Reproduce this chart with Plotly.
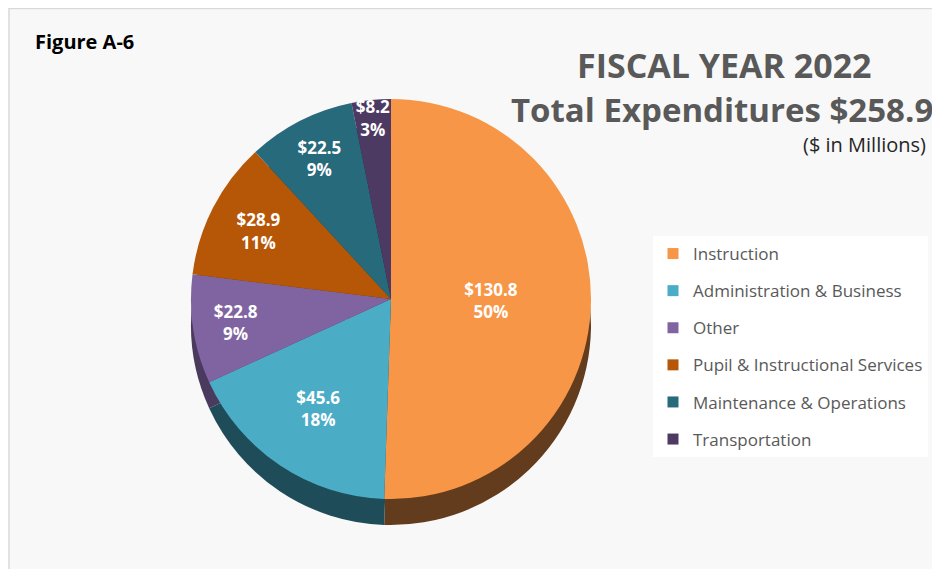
import plotly.graph_objects as go

categories = ["Instruction", "Administration & Business", "Other",
              "Pupil & Instructional Services", "Maintenance & Operations", "Transportation"]
amounts = [130.8, 45.6, 22.8, 28.9, 22.5, 8.2]
percent_labels = ["50%", "18%", "9%", "11%", "9%", "3%"]

top_colors = ["#F79646", "#4BACC6", "#8064A2", "#B65708", "#276A7C", "#4D3A63"]
side_colors = ["#633B1D", "#1F4C59", "#4A3A5E", "#6B3305", "#173F4A", "#2E2239"]

FONT = "Open Sans"
W, H = 932, 561  # page is offset by the 8px body margin


def px(x):
    return x / W


def py(y):
    return 1 - y / H


# pie placement in figure pixels
cx, cy, r, depth = 383, 291, 200, 26

fig = go.Figure()

# side (depth) of the pie
fig.add_trace(go.Pie(
    labels=categories, values=amounts, sort=False, direction="clockwise",
    marker=dict(colors=side_colors, line=dict(width=0)),
    domain=dict(x=[px(cx - r), px(cx + r)], y=[py(cy + depth + r), py(cy + depth - r)]),
    textinfo="none", hoverinfo="skip", showlegend=False,
))

# top face
fig.add_trace(go.Pie(
    labels=categories, values=amounts, sort=False, direction="clockwise",
    customdata=percent_labels,
    texttemplate="$%{value:.1f}<br>%{customdata}",
    textposition="inside", insidetextorientation="horizontal",
    insidetextfont=dict(family=FONT, size=17, color="white", weight="bold"),
    marker=dict(colors=top_colors, line=dict(width=0)),
    domain=dict(x=[px(cx - r), px(cx + r)], y=[py(cy + r), py(cy - r)]),
    hovertemplate="%{label}<br>$%{value:.1f}M<extra></extra>",
    showlegend=False,
))

# legend entries (one per category, spaced like the original legend)
for name, color in zip(categories, top_colors):
    fig.add_trace(go.Scatter(
        x=[None], y=[None], mode="markers", name=name, legendgroup=name,
        marker=dict(symbol="square", size=11, color=color),
        hoverinfo="skip", showlegend=True,
    ))

fig.update_layout(
    width=W, height=H,
    margin=dict(l=0, r=0, t=0, b=0),
    paper_bgcolor="white",
    plot_bgcolor="rgba(0,0,0,0)",
    xaxis=dict(visible=False),
    yaxis=dict(visible=False),
    uniformtext=dict(mode="show", minsize=17),
    font=dict(family=FONT, color="#595959"),
    legend=dict(
        x=px(645), y=py(228), xanchor="left", yanchor="top",
        bgcolor="white", font=dict(family=FONT, size=17, color="#595959"),
        itemwidth=30, traceorder="grouped", tracegroupgap=12,
    ),
    shapes=[dict(type="rect", xref="paper", yref="paper",
                 x0=px(1), x1=1.01, y0=-0.01, y1=py(0.5),
                 fillcolor="#F8F8F8", line=dict(color="#D9D9D9", width=1.5),
                 layer="below")],
    annotations=[
        dict(text="<b>Figure A-6</b>", x=px(25), y=py(34), xref="paper", yref="paper",
             xanchor="left", yanchor="middle", showarrow=False,
             font=dict(family=FONT, size=20, color="black")),
        dict(text="<b>FISCAL YEAR 2022</b>", x=px(716), y=py(57), xref="paper", yref="paper",
             xanchor="center", yanchor="middle", showarrow=False,
             font=dict(family=FONT, size=34, color="#595959")),
        dict(text="<b>Total Expenditures $258.9</b>", x=px(927), y=py(101), xref="paper", yref="paper",
             xanchor="right", yanchor="middle", showarrow=False,
             font=dict(family=FONT, size=33, color="#595959")),
        dict(text="($ in Millions)", x=px(920), y=py(137), xref="paper", yref="paper",
             xanchor="right", yanchor="middle", showarrow=False,
             font=dict(family=FONT, size=20, color="#262626")),
    ],
)

fig.write_html("out.html")
